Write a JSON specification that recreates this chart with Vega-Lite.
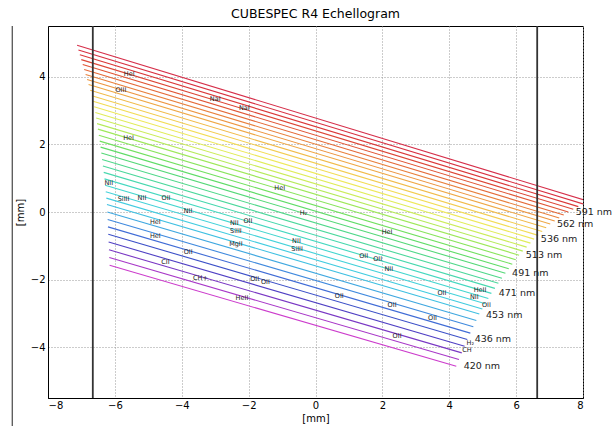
{
  "$schema": "https://vega.github.io/schema/vega-lite/v6.json",
  "width": 535,
  "height": 372,
  "autosize": "none",
  "padding": {"left": 48, "top": 26, "right": 30, "bottom": 28},
  "background": "white",
  "title": {"text": "CUBESPEC R4 Echellogram", "fontSize": 12.5, "fontWeight": "normal", "font": "DejaVu Sans", "color": "black", "offset": 5, "anchor": "middle"},
  "datasets": {
    "orders": [
      {"o": 0, "x": -7.13, "y": 4.933}, {"o": 0, "x": 8.15, "y": 0.319},
      {"o": 1, "x": -7.09, "y": 4.791}, {"o": 1, "x": 8.0, "y": 0.24},
      {"o": 2, "x": -7.047, "y": 4.649}, {"o": 2, "x": 7.86, "y": 0.159},
      {"o": 3, "x": -7.004, "y": 4.505}, {"o": 3, "x": 7.71, "y": 0.079},
      {"o": 4, "x": -6.962, "y": 4.362}, {"o": 4, "x": 7.56, "y": 0.0},
      {"o": 5, "x": -6.918, "y": 4.215}, {"o": 5, "x": 7.425, "y": -0.089},
      {"o": 6, "x": -6.875, "y": 4.067}, {"o": 6, "x": 7.29, "y": -0.178},
      {"o": 7, "x": -6.831, "y": 3.919}, {"o": 7, "x": 7.155, "y": -0.268},
      {"o": 8, "x": -6.787, "y": 3.771}, {"o": 8, "x": 7.02, "y": -0.356},
      {"o": 9, "x": -6.737, "y": 3.603}, {"o": 9, "x": 6.9, "y": -0.468},
      {"o": 10, "x": -6.688, "y": 3.436}, {"o": 10, "x": 6.78, "y": -0.579},
      {"o": 11, "x": -6.653, "y": 3.273}, {"o": 11, "x": 6.66, "y": -0.691},
      {"o": 12, "x": -6.619, "y": 3.11}, {"o": 12, "x": 6.54, "y": -0.802},
      {"o": 13, "x": -6.585, "y": 2.943}, {"o": 13, "x": 6.43, "y": -0.921},
      {"o": 14, "x": -6.559, "y": 2.779}, {"o": 14, "x": 6.315, "y": -1.039},
      {"o": 15, "x": -6.533, "y": 2.614}, {"o": 15, "x": 6.2, "y": -1.157},
      {"o": 16, "x": -6.508, "y": 2.45}, {"o": 16, "x": 6.09, "y": -1.276},
      {"o": 17, "x": -6.48, "y": 2.272}, {"o": 17, "x": 5.99, "y": -1.411},
      {"o": 18, "x": -6.453, "y": 2.096}, {"o": 18, "x": 5.885, "y": -1.544},
      {"o": 19, "x": -6.427, "y": 1.918}, {"o": 19, "x": 5.78, "y": -1.678},
      {"o": 20, "x": -6.406, "y": 1.744}, {"o": 20, "x": 5.68, "y": -1.812},
      {"o": 21, "x": -6.382, "y": 1.552}, {"o": 21, "x": 5.575, "y": -1.961},
      {"o": 22, "x": -6.358, "y": 1.361}, {"o": 22, "x": 5.47, "y": -2.109},
      {"o": 23, "x": -6.334, "y": 1.171}, {"o": 23, "x": 5.365, "y": -2.258},
      {"o": 24, "x": -6.311, "y": 0.98}, {"o": 24, "x": 5.26, "y": -2.407},
      {"o": 25, "x": -6.291, "y": 0.79}, {"o": 25, "x": 5.17, "y": -2.56},
      {"o": 26, "x": -6.273, "y": 0.601}, {"o": 26, "x": 5.08, "y": -2.713},
      {"o": 27, "x": -6.255, "y": 0.411}, {"o": 27, "x": 4.99, "y": -2.867},
      {"o": 28, "x": -6.237, "y": 0.223}, {"o": 28, "x": 4.9, "y": -3.019},
      {"o": 29, "x": -6.226, "y": 0.002}, {"o": 29, "x": 4.81, "y": -3.206},
      {"o": 30, "x": -6.216, "y": -0.22}, {"o": 30, "x": 4.72, "y": -3.394},
      {"o": 31, "x": -6.207, "y": -0.44}, {"o": 31, "x": 4.63, "y": -3.581},
      {"o": 32, "x": -6.197, "y": -0.659}, {"o": 32, "x": 4.54, "y": -3.769},
      {"o": 33, "x": -6.187, "y": -0.889}, {"o": 33, "x": 4.46, "y": -3.968},
      {"o": 34, "x": -6.177, "y": -1.118}, {"o": 34, "x": 4.375, "y": -4.166},
      {"o": 35, "x": -6.167, "y": -1.347}, {"o": 35, "x": 4.29, "y": -4.363},
      {"o": 36, "x": -6.157, "y": -1.577}, {"o": 36, "x": 4.21, "y": -4.562}
    ],
    "ids": [
      {"x": -5.57, "y": 4.07, "t": "HeI"},
      {"x": -5.82, "y": 3.6, "t": "OIII"},
      {"x": -3.0, "y": 3.35, "t": "NaI"},
      {"x": -2.13, "y": 3.09, "t": "NaI"},
      {"x": -5.59, "y": 2.18, "t": "HeI"},
      {"x": -6.18, "y": 0.87, "t": "NII"},
      {"x": -1.07, "y": 0.71, "t": "HeI"},
      {"x": -5.74, "y": 0.39, "t": "SiIII"},
      {"x": -5.19, "y": 0.42, "t": "NII"},
      {"x": -4.47, "y": 0.42, "t": "OII"},
      {"x": -3.81, "y": 0.04, "t": "NII"},
      {"x": -0.36, "y": -0.02, "t": "H₂"},
      {"x": -4.79, "y": -0.29, "t": "HeI"},
      {"x": -4.79, "y": -0.71, "t": "HeI"},
      {"x": -2.43, "y": -0.34, "t": "NII"},
      {"x": -2.38, "y": -0.55, "t": "SiIII"},
      {"x": -2.02, "y": -0.28, "t": "OII"},
      {"x": -2.38, "y": -0.95, "t": "MgII"},
      {"x": -0.57, "y": -0.87, "t": "NII"},
      {"x": -0.55, "y": -1.08, "t": "SiIII"},
      {"x": -3.81, "y": -1.18, "t": "OII"},
      {"x": -4.49, "y": -1.48, "t": "CII"},
      {"x": -3.44, "y": -1.96, "t": "CH+"},
      {"x": -1.82, "y": -1.97, "t": "OII"},
      {"x": -1.5, "y": -2.06, "t": "OII"},
      {"x": -2.2, "y": -2.53, "t": "HeII"},
      {"x": 2.14, "y": -0.58, "t": "HeI"},
      {"x": 1.44, "y": -1.3, "t": "OII"},
      {"x": 1.86, "y": -1.4, "t": "OII"},
      {"x": 2.19, "y": -1.7, "t": "NII"},
      {"x": 0.71, "y": -2.49, "t": "OII"},
      {"x": 2.29, "y": -2.75, "t": "OII"},
      {"x": 3.78, "y": -2.4, "t": "OII"},
      {"x": 4.92, "y": -2.3, "t": "HeII"},
      {"x": 4.75, "y": -2.5, "t": "NII"},
      {"x": 5.11, "y": -2.75, "t": "OII"},
      {"x": 3.5, "y": -3.13, "t": "OII"},
      {"x": 2.44, "y": -3.67, "t": "OII"},
      {"x": 4.63, "y": -3.87, "t": "H₂"},
      {"x": 4.53, "y": -4.08, "t": "CH"}
    ],
    "wl": [
      {"x": 7.78, "y": 0.0, "t": "591 nm"},
      {"x": 7.22, "y": -0.365, "t": "562 nm"},
      {"x": 6.74, "y": -0.8, "t": "536 nm"},
      {"x": 6.29, "y": -1.28, "t": "513 nm"},
      {"x": 5.88, "y": -1.81, "t": "491 nm"},
      {"x": 5.48, "y": -2.4, "t": "471 nm"},
      {"x": 5.1, "y": -3.06, "t": "453 nm"},
      {"x": 4.76, "y": -3.77, "t": "436 nm"},
      {"x": 4.43, "y": -4.56, "t": "420 nm"}
    ],
    "edges": [{"x": -6.66}, {"x": 6.63}],
    "border": [{"x": -9.07, "y": 5.5, "y2": -6.4}]
  },
  "layer": [
    {
      "data": {"name": "orders"},
      "mark": {"type": "line", "clip": true, "strokeWidth": 1.1},
      "encoding": {
        "x": {"field": "x", "type": "quantitative", "scale": {"domain": [-8, 8], "nice": false, "zero": false},
              "axis": {"values": [-8, -6, -4, -2, 0, 2, 4, 6, 8], "title": "[mm]", "labelPadding": 2, "titlePadding": 3}},
        "y": {"field": "y", "type": "quantitative", "scale": {"domain": [-5.5, 5.5], "nice": false, "zero": false},
              "axis": {"values": [-4, -2, 0, 2, 4], "title": "[mm]", "labelPadding": 3, "titlePadding": 5}},
        "color": {"field": "o", "type": "nominal", "legend": null,
          "scale": {"domain": [0,1,2,3,4,5,6,7,8,9,10,11,12,13,14,15,16,17,18,19,20,21,22,23,24,25,26,27,28,29,30,31,32,33,34,35,36],
            "range": ["#d62f4a","#d83040","#da3838","#dc4535","#e05535","#e46a38","#e8803c","#ec9540","#eea845","#f0bb4a","#f2cc50","#f2dc55","#eee85a","#e0ec5a","#ccec5a","#b5ea5a","#9ee85a","#88e45c","#72e060","#60dc68","#55d878","#50d88a","#4cd89c","#48d8ae","#45d8c0","#44d6cf","#44d2da","#42cce0","#40c0e2","#40a8e0","#408ade","#406cd6","#3c50c8","#5040c4","#7a38c4","#a838c8","#cc3ccc"]}},
        "detail": {"field": "o", "type": "nominal"}
      }
    },
    {
      "data": {"name": "edges"},
      "mark": {"type": "rule", "color": "#333333", "strokeWidth": 1.8},
      "encoding": {"x": {"field": "x", "type": "quantitative", "scale": {"domain": [-8, 8], "nice": false, "zero": false}}}
    },
    {
      "data": {"name": "border"},
      "mark": {"type": "rule", "color": "#222222", "strokeWidth": 1, "clip": false},
      "encoding": {
        "x": {"field": "x", "type": "quantitative", "scale": {"domain": [-8, 8], "nice": false, "zero": false}},
        "y": {"field": "y", "type": "quantitative", "scale": {"domain": [-5.5, 5.5], "nice": false, "zero": false}},
        "y2": {"field": "y2"}
      }
    },
    {
      "data": {"name": "ids"},
      "mark": {"type": "text", "font": "DejaVu Sans", "fontSize": 6.5, "color": "#222222", "align": "center", "baseline": "middle"},
      "encoding": {
        "x": {"field": "x", "type": "quantitative", "scale": {"domain": [-8, 8], "nice": false, "zero": false}},
        "y": {"field": "y", "type": "quantitative", "scale": {"domain": [-5.5, 5.5], "nice": false, "zero": false}},
        "text": {"field": "t"}
      }
    },
    {
      "data": {"name": "wl"},
      "mark": {"type": "text", "font": "DejaVu Sans", "fontSize": 9.5, "color": "#222222", "align": "left", "baseline": "middle"},
      "encoding": {
        "x": {"field": "x", "type": "quantitative", "scale": {"domain": [-8, 8], "nice": false, "zero": false}},
        "y": {"field": "y", "type": "quantitative", "scale": {"domain": [-5.5, 5.5], "nice": false, "zero": false}},
        "text": {"field": "t"}
      }
    }
  ],
  "config": {
    "view": {"stroke": "black", "strokeWidth": 1},
    "axis": {
      "domainColor": "black", "domainWidth": 1, "ticks": false,
      "grid": true, "gridColor": "#999999", "gridDash": [1, 2], "gridWidth": 1,
      "labelFont": "DejaVu Sans", "labelFontSize": 10, "labelColor": "black",
      "titleFont": "DejaVu Sans", "titleFontSize": 10, "titleFontWeight": "normal", "titleColor": "black"
    }
  }
}
